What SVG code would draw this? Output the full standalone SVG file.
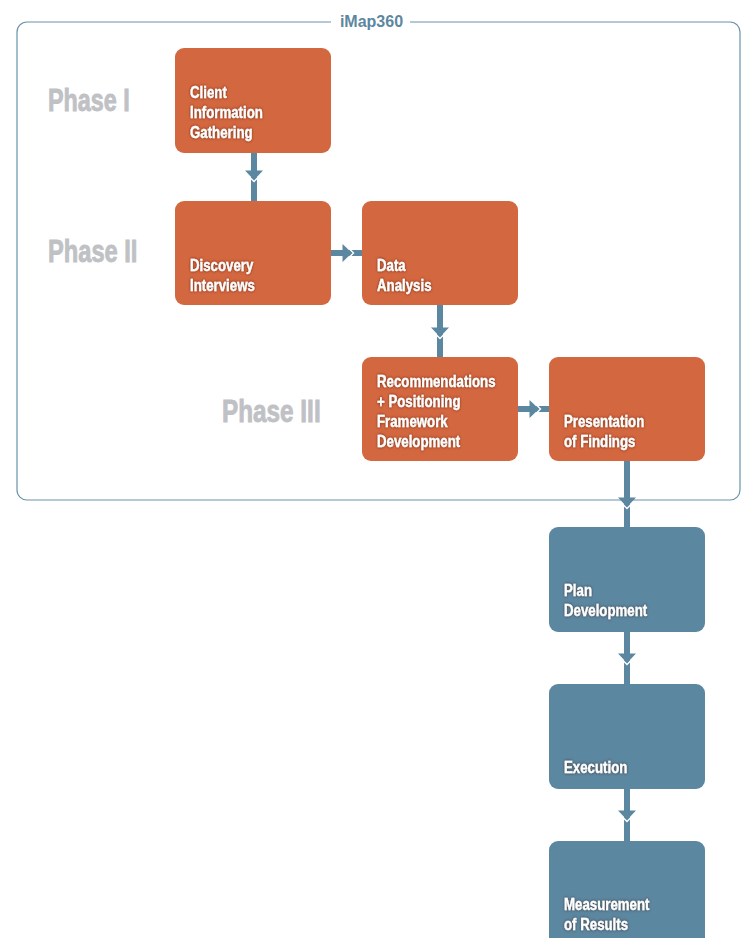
<svg xmlns="http://www.w3.org/2000/svg" xmlns:xlink="http://www.w3.org/1999/xlink" width="744" height="938" viewBox="0 0 744 938">
<style>
.o{fill:#d3673f}
.b{fill:#5b87a0}
.t{font-family:"Liberation Sans",Arial,sans-serif;font-weight:bold;font-size:17px;fill:#fff;stroke:#fff;stroke-width:0.3;filter:url(#sh)}
.p{font-family:"Liberation Sans",Arial,sans-serif;font-weight:bold;font-size:32px;fill:#c0c1c5;stroke:#c0c1c5;stroke-width:0.9}
.sf{stroke:#5b87a0;stroke-width:6;fill:none}
</style>
<defs>
<filter id="sh" x="-20%" y="-40%" width="140%" height="180%">
<feDropShadow dx="0" dy="0" stdDeviation="1.6" flood-color="#4a1a08" flood-opacity="0.75"/>
</filter>
<g id="hd">
<polygon points="-9,-9.5 9,-9.5 0,0" fill="#5b87a0"/>
<polyline points="-4.5,-3 0,1.5 4.5,-3" fill="none" stroke="#fff" stroke-width="1.4"/>
</g>
</defs>
<rect width="744" height="938" fill="#fff"/>
<g id="frame">
<rect x="17" y="22" width="723" height="478" rx="10" fill="none" stroke="#6b93aa" stroke-width="1.2"/>
<rect x="331" y="12" width="79" height="20" fill="#fff"/>
<text x="371.5" y="27" text-anchor="middle" style="font-family:'Liberation Sans',Arial,sans-serif;font-weight:bold;font-size:16px;fill:#5b87a0">iMap360</text>
</g>
<g id="phases">
<text class="p" transform="translate(48 111) scale(.73 1)">Phase I</text>
<text class="p" transform="translate(48 262) scale(.74 1)">Phase II</text>
<text class="p" transform="translate(222 422) scale(.76 1)">Phase III</text>
</g>
<g id="connectors">
<line class="sf" x1="254" y1="153" x2="254" y2="201"/>
<line class="sf" x1="331" y1="253" x2="362" y2="253"/>
<line class="sf" x1="440" y1="305" x2="440" y2="357"/>
<line class="sf" x1="518" y1="409" x2="549" y2="409"/>
<line class="sf" x1="627" y1="461" x2="627" y2="527"/>
<line class="sf" x1="627" y1="632" x2="627" y2="684"/>
<line class="sf" x1="627" y1="789" x2="627" y2="841"/>
<use xlink:href="#hd" transform="translate(254 180)"/>
<use xlink:href="#hd" transform="translate(352 253) rotate(-90)"/>
<use xlink:href="#hd" transform="translate(440 337)"/>
<use xlink:href="#hd" transform="translate(539 409) rotate(-90)"/>
<use xlink:href="#hd" transform="translate(627 507)"/>
<use xlink:href="#hd" transform="translate(627 663)"/>
<use xlink:href="#hd" transform="translate(627 820)"/>
</g>
<g id="n1">
<rect class="o" x="175" y="48" width="156" height="105" rx="9"/>
<text class="t" transform="translate(190 98) scale(.78 1)"><tspan x="0" y="0">Client</tspan><tspan x="0" y="20">Information</tspan><tspan x="0" y="40">Gathering</tspan></text>
</g>
<g id="n2">
<rect class="o" x="175" y="201" width="156" height="104" rx="9"/>
<text class="t" transform="translate(190 271) scale(.78 1)"><tspan x="0" y="0">Discovery</tspan><tspan x="0" y="20">Interviews</tspan></text>
</g>
<g id="n3">
<rect class="o" x="362" y="201" width="156" height="104" rx="9"/>
<text class="t" transform="translate(377 271) scale(.78 1)"><tspan x="0" y="0">Data</tspan><tspan x="0" y="20">Analysis</tspan></text>
</g>
<g id="n4">
<rect class="o" x="362" y="357" width="156" height="104" rx="9"/>
<text class="t" transform="translate(377 387) scale(.78 1)"><tspan x="0" y="0">Recommendations</tspan><tspan x="0" y="20">+ Positioning</tspan><tspan x="0" y="40">Framework</tspan><tspan x="0" y="60">Development</tspan></text>
</g>
<g id="n5">
<rect class="o" x="549" y="357" width="156" height="104" rx="9"/>
<text class="t" transform="translate(564 427) scale(.78 1)"><tspan x="0" y="0">Presentation</tspan><tspan x="0" y="20">of Findings</tspan></text>
</g>
<g id="n6">
<rect class="b" x="549" y="527" width="156" height="105" rx="9"/>
<text class="t" transform="translate(564 596) scale(.78 1)"><tspan x="0" y="0">Plan</tspan><tspan x="0" y="20">Development</tspan></text>
</g>
<g id="n7">
<rect class="b" x="549" y="684" width="156" height="105" rx="9"/>
<text class="t" transform="translate(564 773) scale(.78 1)">Execution</text>
</g>
<g id="n8">
<rect class="b" x="549" y="841" width="156" height="110" rx="9"/>
<text class="t" transform="translate(564 910) scale(.78 1)"><tspan x="0" y="0">Measurement</tspan><tspan x="0" y="20">of Results</tspan></text>
</g>
</svg>
